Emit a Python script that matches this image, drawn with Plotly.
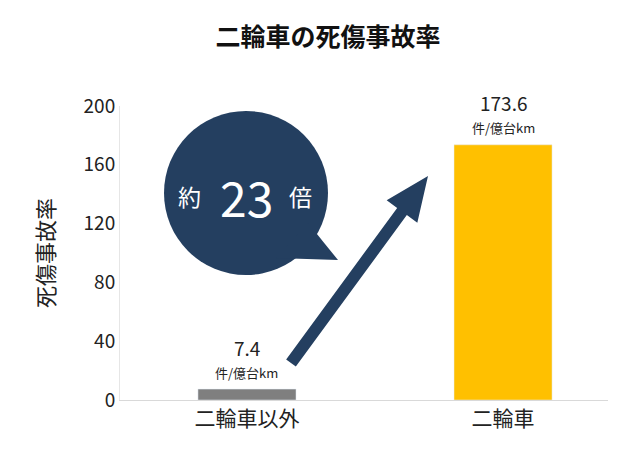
import plotly.graph_objects as go

# data
categories = ["二輪車以外", "二輪車"]
rates = [7.4, 173.6]
bar_colors = ["#7f7f7f", "#ffc000"]
value_labels = ["7.4", "173.6"]
unit_label = "件/億台km"
y_ticks = [0, 40, 80, 120, 160, 200]

FONT = "Noto Sans CJK JP"
NAVY = "#243f60"

# plot area in pixels
L, R, T, B = 112, 600, 98, 392

def px(x, y):
    return (x - L) / (R - L), (B - y) / (B - T)

fig = go.Figure()
fig.add_trace(go.Bar(x=categories, y=rates, marker_color=bar_colors, width=0.383))

for c, v, lab in zip(categories, rates, value_labels):
    fig.add_annotation(x=c, y=v, text=lab, showarrow=False, yshift=42,
                       font=dict(size=19, color="#222", family=FONT))
    fig.add_annotation(x=c, y=v, text=unit_label, showarrow=False, yshift=17,
                       font=dict(size=13, color="#222", family=FONT))

shapes = []
# speech bubble
cx, cy, r = 238, 185, 82
x0, y0 = px(cx - r, cy + r)
x1, y1 = px(cx + r, cy - r)
shapes.append(dict(type="circle", xref="paper", yref="paper", x0=x0, y0=y0, x1=x1, y1=y1,
                   fillcolor=NAVY, line_width=0, layer="above"))
pts = [px(300, 215), px(330, 252), px(268, 250)]
path = "M " + " L ".join(f"{a},{b}" for a, b in pts) + " Z"
shapes.append(dict(type="path", xref="paper", yref="paper", path=path,
                   fillcolor=NAVY, line_width=0, layer="above"))

# thick arrow
sx, sy, tx, ty = 283, 355, 420, 168
dx, dy = tx - sx, ty - sy
ln = (dx * dx + dy * dy) ** 0.5
ux, uy = dx / ln, dy / ln
nx, ny = -uy, ux
hw, hh, hl = 6, 19, 44
bx, by = tx - ux * hl, ty - uy * hl
poly = [(sx + nx * hw, sy + ny * hw), (bx + nx * hw, by + ny * hw), (bx + nx * hh, by + ny * hh),
        (tx, ty), (bx - nx * hh, by - ny * hh), (bx - nx * hw, by - ny * hw), (sx - nx * hw, sy - ny * hw)]
path = "M " + " L ".join(f"{a},{b}" for a, b in (px(*p) for p in poly)) + " Z"
shapes.append(dict(type="path", xref="paper", yref="paper", path=path,
                   fillcolor=NAVY, line_width=0, layer="above"))

for txt, xp, size in [("約", 181, 23), ("23", 238, 48), ("倍", 292, 23)]:
    ax_, ay_ = px(xp, 188)
    fig.add_annotation(xref="paper", yref="paper", x=ax_, y=ay_, showarrow=False,
                       xanchor="center", yanchor="middle", text=txt,
                       font=dict(color="white", family=FONT, size=size))

fig.update_layout(
    width=640, height=454,
    margin=dict(l=L, r=640 - R, t=T, b=454 - B, autoexpand=False),
    plot_bgcolor="white", paper_bgcolor="white",
    showlegend=False, shapes=shapes,
    title=dict(text="<b>二輪車の死傷事故率</b>", x=0.5, xanchor="center",
               yref="container", y=0.935, yanchor="middle",
               font=dict(size=25, color="#111", family=FONT)),
    font=dict(family=FONT, color="#222"),
    xaxis=dict(range=[-0.496, 1.41], showline=True, linecolor="#d9d9d9",
               tickfont=dict(size=21), ticks="", automargin=False),
    yaxis=dict(range=[0, 200], tickvals=y_ticks, showgrid=False, showline=True,
               linecolor="#e6e6e6", tickfont=dict(size=19), ticklen=0, automargin=False,
               title=dict(text="死傷事故率", font=dict(size=22), standoff=22)),
)

fig.write_html("out.html")
